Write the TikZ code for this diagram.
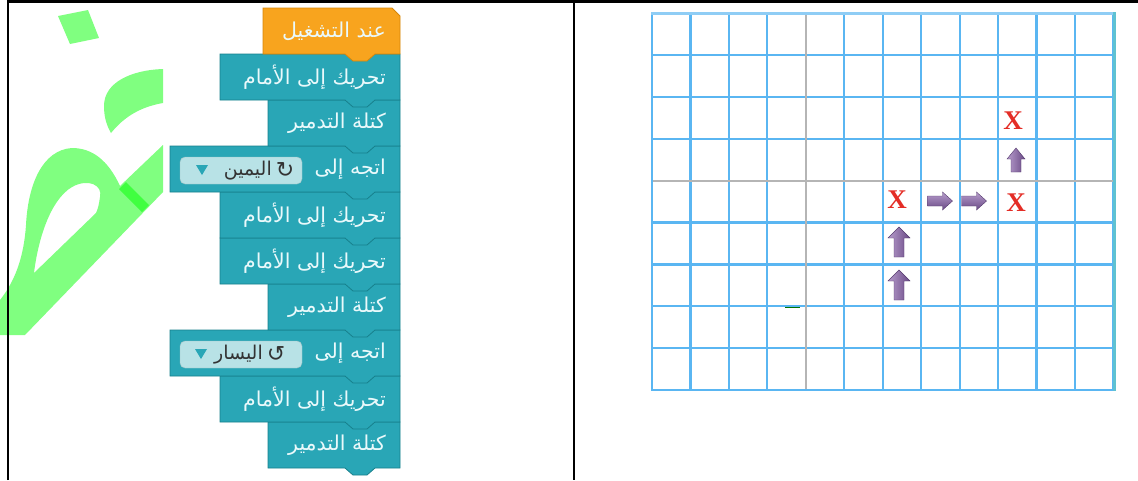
\documentclass[tikz,border=0pt]{standalone}
\usepackage{fontspec}
\TeXXeTstate=1
\newfontfamily\arabicfont[Script=Arabic]{DejaVu Sans}
\newfontfamily\symfont{DejaVu Sans}
\newfontfamily\xfont{Liberation Serif}
\definecolor{blkteal}{HTML}{29A6B6}
\definecolor{blktealdk}{HTML}{17808C}
\definecolor{blktxt}{HTML}{EAF9FB}
\definecolor{blkorange}{HTML}{F8A41E}
\definecolor{blkorangedk}{HTML}{D6870A}
\definecolor{fieldbg}{HTML}{B8E2E6}
\definecolor{fieldtxt}{HTML}{333333}
\definecolor{gridblue}{HTML}{5AB6F2}
\definecolor{gridtop}{HTML}{8FCDF5}
\definecolor{gridgray}{HTML}{B5B5B5}
\definecolor{gridright}{HTML}{5FC2D2}
\definecolor{xred}{HTML}{E42D26}
\definecolor{arrL}{HTML}{B79DCC}
\definecolor{arrR}{HTML}{6A4A86}
\definecolor{arrD}{HTML}{553A6E}
\definecolor{wmgreen}{HTML}{80FF80}
\definecolor{wmgreendk}{HTML}{40FF40}
\newcommand\blk[2]{%
  \filldraw[fill=blkteal,draw=blktealdk,line width=0.8]
    (#1,#2) -- (400,#2) -- (400,#2+46) -- (375,#2+46) -- (367,#2+53)
    -- (353,#2+53) -- (345,#2+46) -- (#1,#2+46) -- cycle;}
\newcommand\upar[4]{% cx cy h headhalf
  \shadedraw[left color=arrL,right color=arrR,draw=arrD,line width=0.4]
    (#1-5,#2+#3/2) -- (#1-5,#2-#3/2+11) -- (#1-#4,#2-#3/2+11) -- (#1,#2-#3/2)
    -- (#1+#4,#2-#3/2+11) -- (#1+5,#2-#3/2+11) -- (#1+5,#2+#3/2) -- cycle;}
\newcommand\rtar[3]{% cx cy w
  \shadedraw[top color=arrL,bottom color=arrR,draw=arrD,line width=0.4]
    (#1-#3/2,#2-5) -- (#1+#3/2-10,#2-5) -- (#1+#3/2-10,#2-9) -- (#1+#3/2,#2)
    -- (#1+#3/2-10,#2+9) -- (#1+#3/2-10,#2+5) -- (#1-#3/2,#2+5) -- cycle;}
\begin{document}
\begin{tikzpicture}[x=1pt,y=-1pt,
  blktext/.style={anchor=east,inner sep=0,text=blktxt,font=\arabicfont\fontsize{20.5}{24}\selectfont},
  fieldtext/.style={anchor=east,inner sep=0,text=fieldtxt,font=\arabicfont\fontsize{19}{22}\selectfont},
  symtext/.style={inner sep=0,text=fieldtxt,font=\symfont\fontsize{22}{24}\selectfont},
  field/.style={fill=fieldbg,draw=fieldbg!85!black,line width=0.4,rounded corners=5},
  gridl/.style={draw=gridblue,line width=2.2},
  grayl/.style={draw=gridgray,line width=2.2},
  xmark/.style={inner sep=0,text=xred,font=\xfont\bfseries\fontsize{27}{27}\selectfont},
  frame/.style={draw=black,line width=2.6}]
\useasboundingbox (0,0) rectangle (1138,480);
\fill[white] (0,0) rectangle (1138,480);

% green watermark letter
\fill[wmgreen] (58,16) -- (88,10) -- (99,38) -- (70,44) -- cycle;
\fill[wmgreen] (163,69) .. controls (132,70) and (104,82) .. (104,106)
  .. controls (104,118) and (107,126) .. (111,133)
  .. controls (124,117) and (140,107) .. (163,103) -- cycle;
\fill[wmgreen,even odd rule]
  (0,335) -- (0,300) .. controls (16,280) and (24,255) .. (26,225)
  .. controls (28,185) and (42,150) .. (72,148)
  .. controls (92,148) and (108,160) .. (120,186)
  -- (163,145) -- (163,192) -- (25,335) -- cycle
  (34,273) .. controls (38,240) and (50,200) .. (72,187)
  .. controls (88,178) and (103,185) .. (100,197)
  .. controls (99,204) and (98,209) .. (96,213) -- cycle;
\fill[wmgreendk] (119,189) -- (126,182) -- (149,205) -- (142,212) -- cycle;

% code blocks (drawn bottom to top so the tabs overlap)
\blk{268}{422}
\blk{220}{376}
\blk{170}{330}
\blk{268}{284}
\blk{220}{238}
\blk{220}{192}
\blk{170}{146}
\blk{268}{100}
\blk{220}{54}
\filldraw[fill=blkorange,draw=blkorangedk,line width=0.8]
  (263,8) -- (392,8) -- (400,16) -- (400,54) -- (375,54) -- (367,61)
  -- (353,61) -- (345,54) -- (263,54) -- cycle;

\node[blktext] (b1) at (386,31) {\beginR عند التشغيل\endR};
\node[blktext] (b2) at (386,77) {\beginR تحريك إلى الأمام\endR};
\node[blktext] (b3) at (386,123) {\beginR كتلة التدمير\endR};
\node[blktext] (b4) at (386,169) {\beginR اتجه إلى\endR};
\node[blktext] (b5) at (386,215) {\beginR تحريك إلى الأمام\endR};
\node[blktext] (b6) at (386,261) {\beginR تحريك إلى الأمام\endR};
\node[blktext] (b7) at (386,307) {\beginR كتلة التدمير\endR};
\node[blktext] (b8) at (386,353) {\beginR اتجه إلى\endR};
\node[blktext] (b9) at (386,399) {\beginR تحريك إلى الأمام\endR};
\node[blktext] (b10) at (386,445) {\beginR كتلة التدمير\endR};

% dropdown fields
\draw[field] (180,157) rectangle (302,184);
\node[symtext] (r1) at (285,170) {↻};
\node[fieldtext] (f1) at (272,171) {\beginR اليمين\endR};
\fill[blkteal] (196,165) -- (208,165) -- (202,175) -- cycle;
\draw[field] (180,341) rectangle (302,368);
\node[symtext] (r2) at (276,354) {↺};
\node[fieldtext] (f2) at (263,355) {\beginR اليسار\endR};
\fill[blkteal] (195,349) -- (207,349) -- (201,359) -- cycle;

% grid
\foreach \i in {0,...,12} \draw[gridl] (652+38.45*\i,13) -- (652+38.45*\i,390);
\foreach \j in {1,...,9} \draw[gridl] (651,13+41.9*\j) -- (1114,13+41.9*\j);
\draw[grayl] (652+38.45*4,14) -- (652+38.45*4,389);
\draw[grayl] (653,13+41.9*4) -- (1113,13+41.9*4);
\draw[draw=gridtop,line width=3] (651,13) -- (1115,13);
\draw[draw=gridright,line width=3] (1114,12) -- (1114,391);
\draw[draw=green!45!black,line width=1] (785,307) -- (800,307);

% path marks
\node[xmark] (x1) at (897,200) {X};
\node[xmark] (x2) at (1016,203) {X};
\node[xmark] (x3) at (1013,121) {X};
\upar{899}{242}{30}{11}
\upar{899}{285}{30}{11}
\upar{1016}{160}{24}{9}
\rtar{940}{201}{25}
\rtar{974}{201}{25}

% frame
\draw[frame] (8,480) -- (8,1.3) -- (1138,1.3);
\draw[frame] (574,0) -- (574,480);
\end{tikzpicture}
\end{document}
